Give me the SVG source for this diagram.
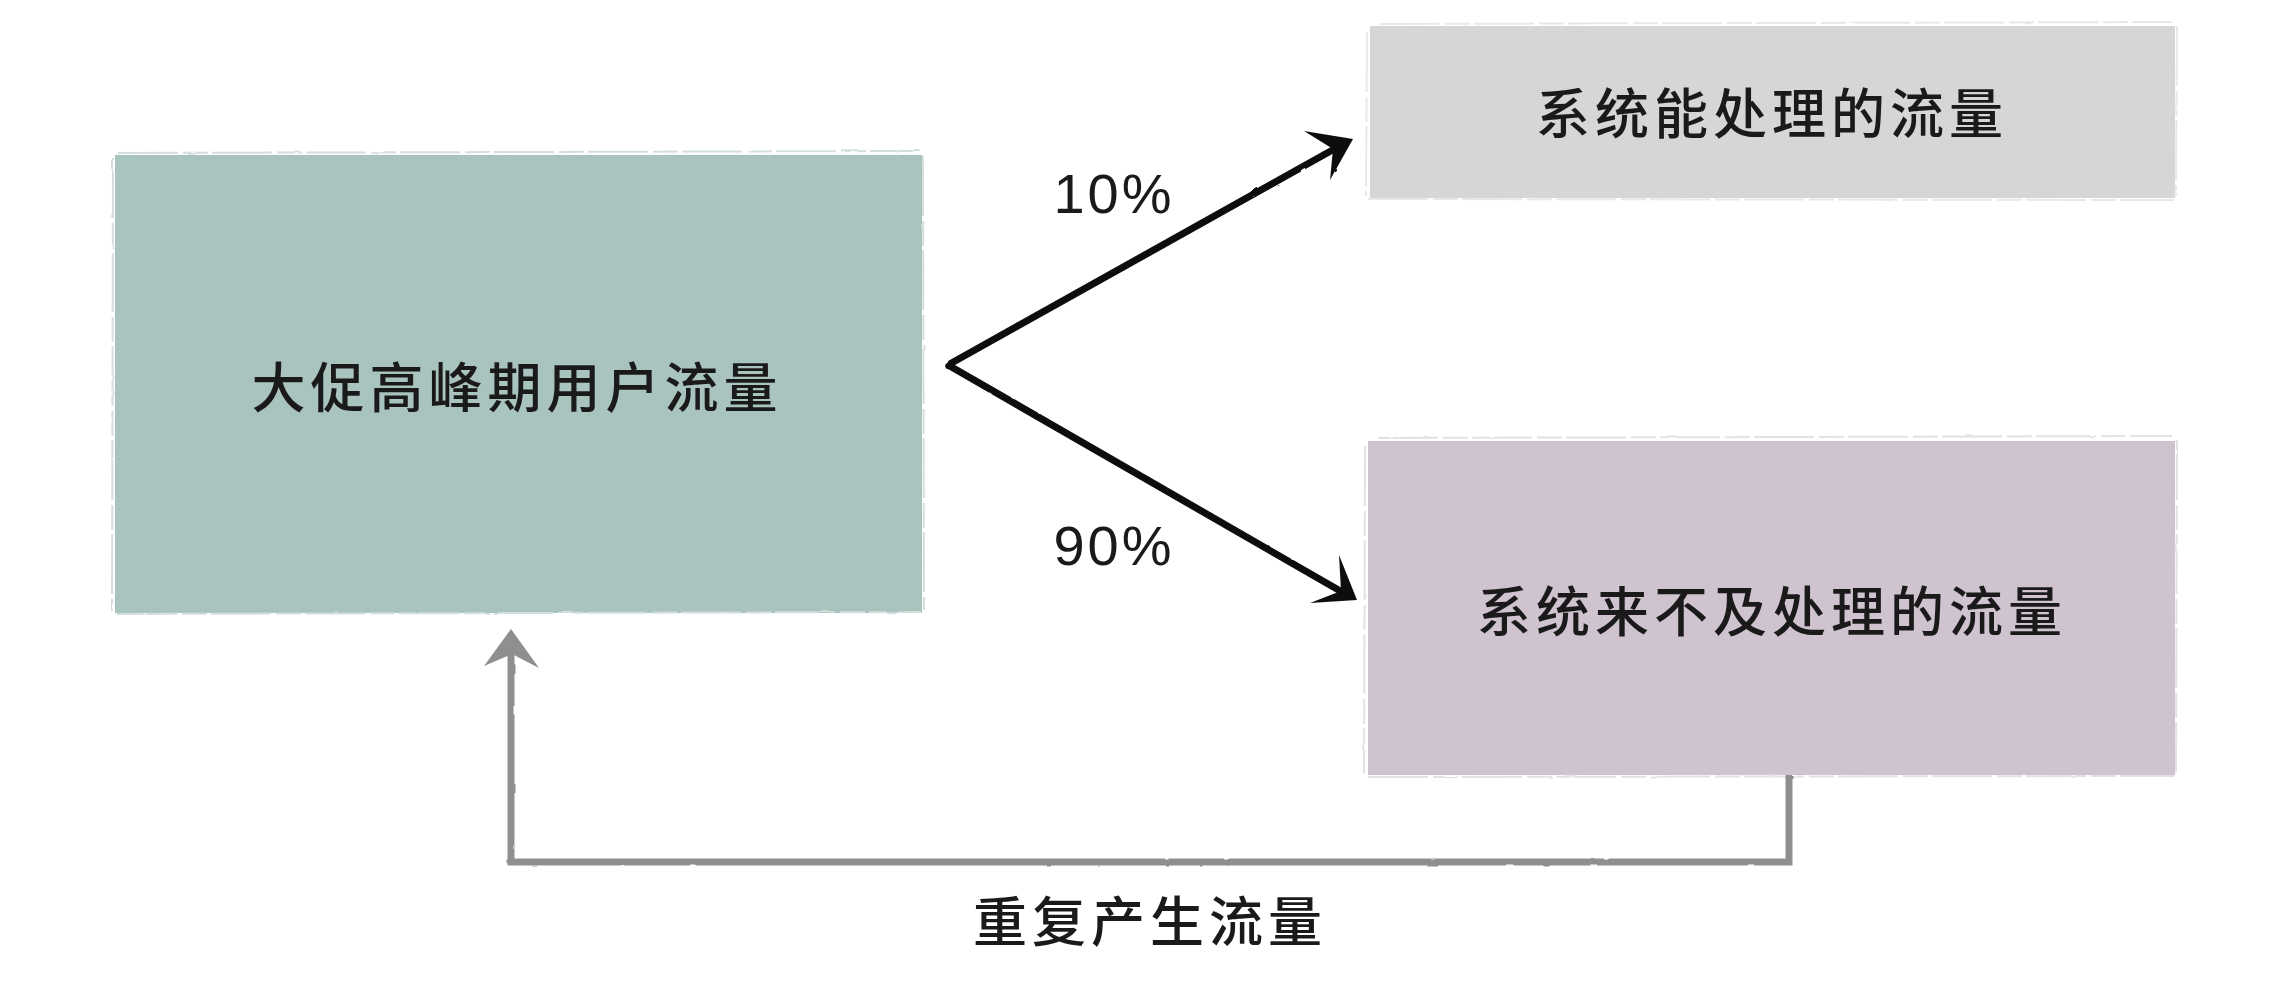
<svg xmlns="http://www.w3.org/2000/svg" width="2284" height="1000" viewBox="0 0 2284 1000">
<defs>
<style>
.lbl{font-family:"Noto Sans CJK SC","Noto Sans",sans-serif;font-size:54px;font-weight:500;letter-spacing:5px;fill:#1a1a1a;text-anchor:middle}
.pct{font-family:"Liberation Sans","DejaVu Sans",sans-serif;font-size:56px;letter-spacing:3px;fill:#1a1a1a;text-anchor:middle}
.edge{fill:none;stroke-width:2;stroke-dasharray:60 5 25 4}
.blk{fill:none;stroke:#111;stroke-width:7;stroke-linecap:round}
.gry{fill:none;stroke:#8f8f8f;stroke-width:7;stroke-linecap:butt;stroke-linejoin:miter}
</style>
<filter id="rough" x="-5%" y="-5%" width="110%" height="110%">
<feTurbulence type="fractalNoise" baseFrequency="0.05" numOctaves="2" seed="3"/>
<feDisplacementMap in="SourceGraphic" scale="2"/>
</filter>
</defs>
<rect width="2284" height="1000" fill="#ffffff"/>
<g id="node-peak">
<rect x="115" y="155" width="807" height="458" fill="#a9c3bf"/>
<path class="edge" d="M118 153 L920 151 M113 158 L112 611 M117 614 L921 612 M923 156 L924 610" stroke="#d3dfdd" filter="url(#rough)"/>
<text class="lbl" x="517" y="408">大促高峰期用户流量</text>
</g>
<g id="node-handled">
<rect x="1370" y="26" width="805" height="172" fill="#d6d6d6"/>
<path class="edge" d="M1380 24 L2172 22 M1367 32 L1366 196 M1368 199 L2174 200 M2177 26 L2176 196" stroke="#e8e8e8" filter="url(#rough)"/>
<text class="lbl" x="1772" y="134">系统能处理的流量</text>
</g>
<g id="node-overflow">
<rect x="1368" y="441" width="807" height="334" fill="#d0c3d0"/>
<path class="edge" d="M1378 438 L2172 436 M1365 446 L1364 773 M1368 777 L2174 776 M2177 440 L2176 772" stroke="#e6dfe6" filter="url(#rough)"/>
<text class="lbl" x="1772" y="632">系统来不及处理的流量</text>
</g>
<g id="connectors">
<g filter="url(#rough)">
<path class="blk" d="M948 365 L1345 143"/>
<polygon points="1353,139 1304,131 1333,149 1330,180" fill="#111"/>
<path class="blk" d="M948 365 L1349 596"/>
<polygon points="1357,600 1339,555 1341,591 1310,603" fill="#111"/>
<path class="gry" d="M1789 775 L1789 862 L511 862 L511 640"/>
<polygon points="511,629 539,668 512,654 484,666" fill="#8f8f8f"/>
</g>
<text class="pct" x="1114" y="213">10%</text>
<text class="pct" x="1114" y="565">90%</text>
<text class="lbl" x="1150" y="942">重复产生流量</text>
</g>
</svg>
